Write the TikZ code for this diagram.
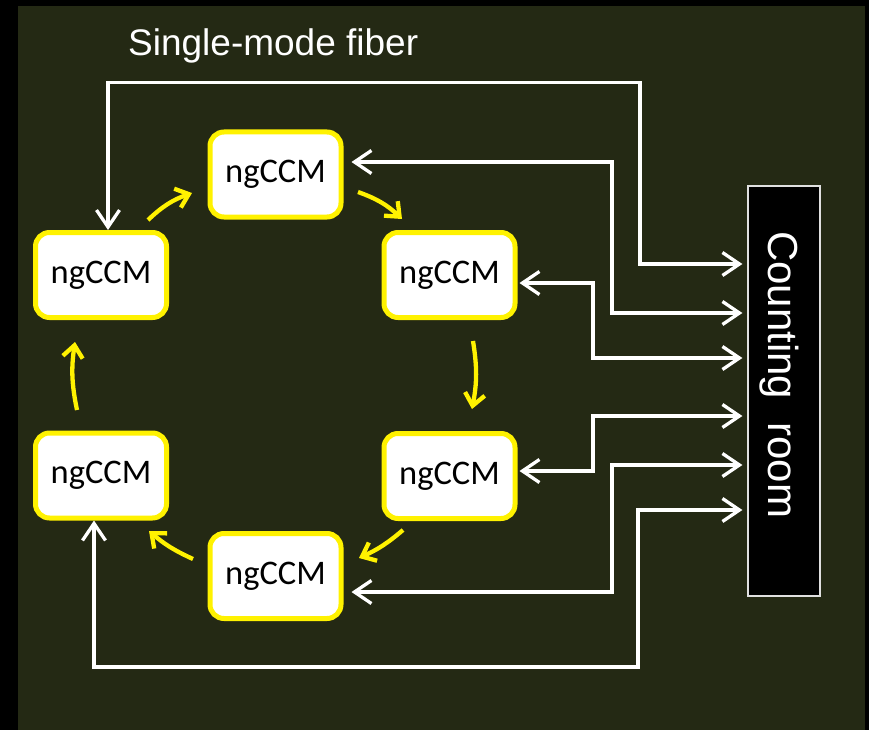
\documentclass[tikz,border=0pt]{standalone}
\usepackage{fontspec}
\setmainfont{Liberation Sans}
\newfontfamily\carlito{Carlito}
\usetikzlibrary{arrows.meta}
\definecolor{slide}{RGB}{36,41,20}

\begin{document}
\begin{tikzpicture}[x=1pt,y=-1pt,
  wire/.style={draw=white,line width=3.3pt,
    arrows={Straight Barb[length=17pt,width=23pt]-Straight Barb[length=17pt,width=23pt]}},
  flow/.style={draw=yellow,line width=4.3pt,
    -{Straight Barb[length=12pt,width=20pt]}},
  ccm/.style={draw=yellow,line width=5pt,fill=white,rounded corners=14pt,
    minimum width=131pt,minimum height=85pt,inner sep=0pt,text=black,
    font=\carlito\fontsize{34.5}{34.5}\selectfont},
  room/.style={draw=white!88!black,line width=1.2pt,fill=black,
    minimum width=72pt,minimum height=410pt,inner sep=0pt}]

% slide background
\fill[black] (0,0) rectangle (869,730);
\fill[slide] (18,6) rectangle (865,730);
\useasboundingbox (0,0) rectangle (869,730);

% title
\node[anchor=base west,inner sep=0pt,text=white,
  font=\fontsize{37}{37}\selectfont] (title) at (128,56) {Single-mode fiber};

% counting room
\node[room] (cr) at (784,391) {};
\node[rotate=-90,anchor=base west,inner sep=0pt,text=white,
  font=\fontsize{42}{42}\selectfont] (crlabel) at (768,231) {Counting~ room};
\coordinate (crin) at ([xshift=-5pt]cr.west);

% ring of ngCCM modules
\node[ccm] (t)  at (275.5,174.5) {ngCCM};
\node[ccm] (ru) at (449.5,275)   {ngCCM};
\node[ccm] (rl) at (449.5,476)   {ngCCM};
\node[ccm] (b)  at (275.5,576)   {ngCCM};
\node[ccm] (ll) at (101,475.5)   {ngCCM};
\node[ccm] (lu) at (101,275)     {ngCCM};

% ring flow arrows
\coordinate (f1s) at (148,220); \coordinate (f1e) at (192,193);
\coordinate (f2s) at (358,192); \coordinate (f2e) at (402,219);
\coordinate (f3s) at (473,341); \coordinate (f3e) at (472,409);
\coordinate (f4s) at (403,530); \coordinate (f4e) at (359,558);
\coordinate (f5s) at (193,559); \coordinate (f5e) at (149,531);
\coordinate (f6s) at (77,410);  \coordinate (f6e) at (75,342);
\draw[flow] (f1s) to[bend left=12] (f1e);
\draw[flow] (f2s) to[bend left=12] (f2e);
\draw[flow] (f3s) to[bend left=10] (f3e);
\draw[flow] (f4s) to[bend left=8]  (f4e);
\draw[flow] (f5s) to[bend left=8]  (f5e);
\draw[flow] (f6s) to[bend left=10] (f6e);

% single-mode fibers to the counting room
\draw[wire] (108,0 |- lu.north) |- (640,82.7) |- (crin |- 0,264);
\draw[wire,shorten <=8pt] (t.east |- 0,162) -| (612,313) -- (crin |- 0,313);
\draw[wire,shorten <=2pt] (ru.east |- 0,283) -| (593,358) -- (crin |- 0,358);
\draw[wire,shorten <=2pt] (rl.east |- 0,471) -| (593,416) -- (crin |- 0,416);
\draw[wire,shorten <=8pt] (b.east |- 0,592) -| (612,465) -- (crin |- 0,465);
\draw[wire] (94,0 |- ll.south) |- (638,667) |- (crin |- 0,510);
\end{tikzpicture}
\end{document}
